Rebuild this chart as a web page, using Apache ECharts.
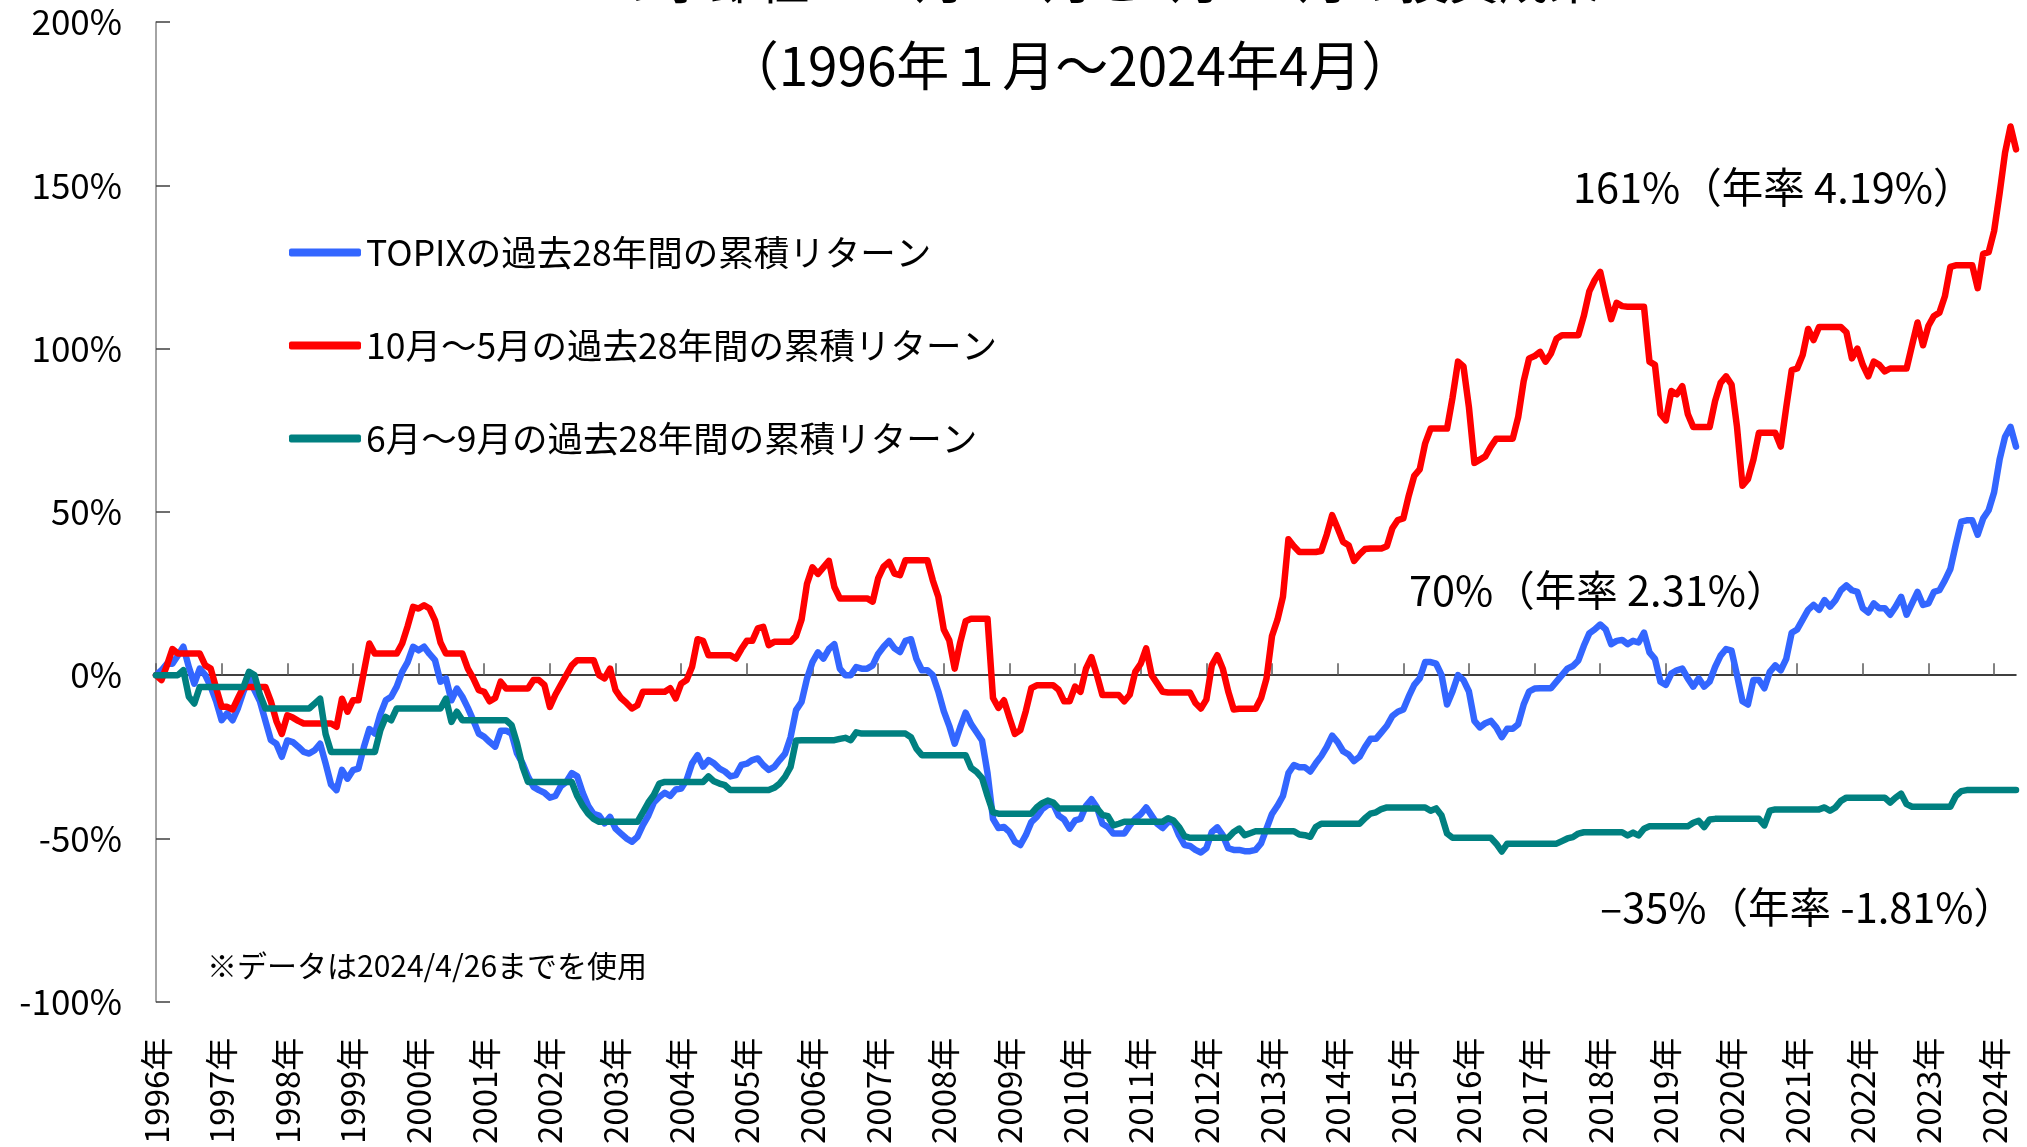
<!DOCTYPE html>
<html>
<head>
<meta charset="utf-8">
<script src="https://cdn.jsdelivr.net/npm/echarts@6/dist/echarts.min.js"></script>
<style>
html,body{margin:0;padding:0;background:#ffffff;}
#chart{width:2027px;height:1147px;}
</style>
</head>
<body>
<div id="chart"></div>
<script>
// ---- categories (month points, Jan 1996 ... Apr 2024 end) ----
const years = [1996,1997,1998,1999,2000,2001,2002,2003,2004,2005,2006,2007,2008,2009,2010,2011,2012,2013,2014,2015,2016,2017,2018,2019,2020,2021,2022,2023,2024];
const monthNames = ['01','02','03','04','05','06','07','08','09','10','11','12'];
const pointCount = 341;
const categories = [];
years.forEach(function (y) {
  monthNames.forEach(function (m) {
    if (categories.length < pointCount) categories.push(y + '/' + m);
  });
});

// ---- y axis ticks ----
const yTicks = [-100, -50, 0, 50, 100, 150, 200];

// ---- series names ----
const seriesNames = ['TOPIXの過去28年間の累積リターン', '10月～5月の過去28年間の累積リターン', '6月～9月の過去28年間の累積リターン'];

// ---- TOPIX cumulative return (%) ----
const topixValues = [
 0, 1.5, 3.5, 3.5, 6, 8.7, 2.5, -2.6, 2, 0, -3.5, -8,
 -13.8, -11.7, -13.8, -10, -5, -1, -4.6, -8, -14, -19.9, -21, -25,
 -20, -20.5, -21.9, -23.5, -24, -23, -21, -27, -33.5, -35.2, -29, -31.7,
 -29.1, -28.6, -22, -16.5, -17.9, -12, -7.7, -6.6, -3.5, 1, 4, 8.7,
 7.6, 8.7, 6.5, 4.6, -2, -1, -7.7, -4.1, -6.6, -10, -13.8, -17.9,
 -18.9, -20.5, -21.9, -17, -17, -17.9, -24, -27, -31, -34.2, -35.2, -36,
 -37.5, -37, -34, -32.7, -30, -31, -36, -40, -42.5, -43, -45.4, -43.4,
 -47, -48.5, -50, -51, -49.5, -45.9, -43, -39, -37.3, -36, -37, -35,
 -34.7, -32, -27, -24.5, -28, -26, -27, -28.6, -29.5, -31, -30.6, -27.5,
 -27.1, -26, -25.5, -27.5, -29, -28.1, -26, -24, -19, -10.7, -8.2, -1,
 4, 7, 5.1, 8, 9.5, 2, 0, 0, 2.5, 2, 2, 3,
 6.5, 8.7, 10.5, 8.2, 7.1, 10.5, 11, 5, 1.5, 1.5, 0, -5,
 -11, -15.5, -21, -16, -11.5, -15, -17.5, -20, -30, -44, -46.8, -46.5,
 -48, -51, -52, -49, -45, -43.4, -41, -39.8, -39.5, -43, -44.2, -47,
 -44.5, -44, -40, -38, -40.5, -45.5, -46.5, -48.5, -48.5, -48.5, -46, -44,
 -42.6, -40.5, -43, -45.5, -46.8, -45, -45, -49, -52, -52.3, -53.5, -54.3,
 -53, -48, -46.6, -49, -53, -53.5, -53.5, -53.9, -53.9, -53.5, -51.5, -47,
 -42.5, -40, -37, -30, -27.5, -28.2, -28.2, -29.5, -27, -24.8, -22, -18.5,
 -20.5, -23.3, -24.3, -26.3, -25, -22, -19.5, -19.5, -17.5, -15.5, -12.5, -11.2,
 -10.5, -6.5, -3, -1, 4, 4, 3.5, 0, -9, -5, 0, -1.5,
 -5, -14, -16, -14.7, -14, -16, -19, -16.4, -16.4, -15, -9, -5,
 -4.1, -4, -4, -4, -2, 0, 2, 2.8, 4.5, 9, 12.8, 14,
 15.5, 14, 9.5, 10.5, 10.8, 9.5, 10.5, 10, 13, 7, 5, -2,
 -3, 0.5, 1.5, 2, -1, -3.5, -1, -3.5, -2, 2.5, 6, 8,
 7.5, 0, -8, -9, -1.5, -1.5, -4, 1, 3, 1.5, 5, 13,
 14, 17, 20, 21.5, 20, 23, 21, 23, 26, 27.5, 26, 25.5,
 20.5, 19.2, 22, 20.5, 20.5, 18.5, 21, 24, 18.5, 22, 25.5, 21.5,
 22, 25.5, 26, 29, 32.5, 40, 47, 47.4, 47.4, 43, 48, 50.5,
 56, 66, 73, 76, 70
];

// ---- October-May cumulative return (%) ----
const octMayValues = [
 0, -1.5, 3, 8, 6.6, 6.6, 6.6, 6.6, 6.6, 3, 2, -4,
 -9.7, -9.7, -10.5, -7, -3.6, -3.6, -3.6, -3.6, -3.6, -8, -14, -18,
 -12.3, -13, -14, -14.8, -14.8, -14.8, -14.8, -14.8, -14.8, -15.8, -7.2, -11.2,
 -7.7, -7.7, 1, 9.7, 6.6, 6.6, 6.6, 6.6, 6.6, 9.7, 15, 20.9,
 20.4, 21.4, 20.4, 16.8, 10, 6.6, 6.6, 6.6, 6.6, 2, -1, -4.6,
 -5.1, -8, -7, -2, -4.1, -4.1, -4.1, -4.1, -4.1, -1.5, -1.5, -3,
 -9.7, -6, -3, 0, 3, 4.6, 4.6, 4.6, 4.6, 0, -1, 2,
 -4.6, -7, -8.5, -10.2, -9.2, -5.1, -5.1, -5.1, -5.1, -5.1, -4, -7.1,
 -2.6, -1.5, 2.6, 11, 10.5, 6.1, 6.1, 6.1, 6.1, 6.1, 5.1, 8,
 10.5, 10.5, 14.3, 14.8, 9.2, 10.2, 10.2, 10.2, 10.2, 12, 17, 28,
 33, 31, 33, 35, 27, 23.5, 23.5, 23.5, 23.5, 23.5, 23.5, 22.5,
 29.6, 33.2, 34.7, 31.1, 30.6, 35.2, 35.2, 35.2, 35.2, 35.2, 29, 24,
 14, 10.7, 2, 10, 16.5, 17.3, 17.3, 17.3, 17.3, -7, -10, -7.7,
 -13, -18, -16.8, -11, -4, -3.1, -3.1, -3.1, -3.1, -4.5, -8, -8,
 -3.5, -5.1, 2, 5.5, 0, -6.1, -6.1, -6.1, -6.1, -8, -6, 1,
 3.5, 8.2, 0, -2.5, -5.1, -5.3, -5.3, -5.3, -5.3, -5.3, -8.5, -10.2,
 -7.5, 3, 6.1, 2, -5, -10.5, -10.3, -10.3, -10.3, -10.3, -7, -1,
 12, 17, 24, 41.6, 39.5, 37.7, 37.7, 37.7, 37.7, 38, 43, 49,
 45, 40.8, 39.8, 35, 37, 38.6, 38.8, 38.8, 38.8, 39.5, 45, 47.5,
 48, 55, 61, 63, 71, 75.5, 75.5, 75.5, 75.5, 85, 96, 94.5,
 82, 65, 66, 67, 70, 72.4, 72.4, 72.4, 72.4, 79, 90, 97,
 97.7, 99, 96, 98.5, 103, 104.1, 104.1, 104.1, 104.1, 110, 117.5, 121,
 123.5, 116, 109, 114, 113, 112.8, 112.8, 112.8, 112.8, 96, 95, 80,
 78, 87, 86, 88.5, 80, 76, 76, 76, 76, 84, 89.5, 91.5,
 89, 76, 58, 60, 66, 74.2, 74.2, 74.2, 74.2, 70, 82, 93.4,
 93.9, 98, 106, 102.6, 106.6, 106.6, 106.6, 106.6, 106.6, 105, 97, 100,
 95, 91.5, 96, 95, 93, 93.9, 93.9, 93.9, 93.9, 101, 108, 101,
 107, 110, 111, 116, 125, 125.5, 125.5, 125.5, 125.5, 118.5, 129, 129.5,
 136, 147.5, 160, 168, 161
];

// ---- June-September cumulative return (%) ----
const junSepValues = [
 0, 0, 0, 0, 0, 1.5, -6.6, -8.7, -3.6, -3.6, -3.6, -3.6,
 -3.6, -3.6, -3.6, -3.6, -3.6, 1, 0, -6, -10.2, -10.2, -10.2, -10.2,
 -10.2, -10.2, -10.2, -10.2, -10.2, -8.7, -7.2, -18, -23.5, -23.5, -23.5, -23.5,
 -23.5, -23.5, -23.5, -23.5, -23.5, -16.9, -12.8, -13.8, -10.2, -10.2, -10.2, -10.2,
 -10.2, -10.2, -10.2, -10.2, -10.2, -7.2, -14.3, -11.2, -13.8, -13.8, -13.8, -13.8,
 -13.8, -13.8, -13.8, -13.8, -13.8, -15.3, -20.9, -28, -32.7, -32.7, -32.7, -32.7,
 -32.7, -32.7, -32.7, -32.7, -32.7, -37, -40, -42.4, -44, -44.9, -44.9, -44.9,
 -44.9, -44.9, -44.9, -44.9, -44.9, -42, -39, -36.7, -33.2, -32.7, -32.7, -32.7,
 -32.7, -32.7, -32.7, -32.7, -32.7, -31, -32.5, -33.2, -33.7, -35.2, -35.2, -35.2,
 -35.2, -35.2, -35.2, -35.2, -35.2, -34.5, -33.2, -31.1, -28.1, -20, -19.9, -19.9,
 -19.9, -19.9, -19.9, -19.9, -19.9, -19.5, -19.2, -19.9, -17.5, -17.9, -17.9, -17.9,
 -17.9, -17.9, -17.9, -17.9, -17.9, -17.9, -19, -22.5, -24.5, -24.5, -24.5, -24.5,
 -24.5, -24.5, -24.5, -24.5, -24.5, -28.4, -29.6, -31.5, -37, -42, -42.4, -42.4,
 -42.4, -42.4, -42.4, -42.4, -42.4, -40.5, -39.2, -38.4, -39, -40.8, -40.8, -40.8,
 -40.8, -40.8, -40.8, -40.8, -40.8, -42.8, -43.2, -46, -45.5, -44.9, -44.9, -44.9,
 -44.9, -44.9, -44.9, -44.9, -44.9, -43.8, -44.5, -46.5, -49.3, -49.8, -49.8, -49.8,
 -49.8, -49.8, -49.8, -49.8, -49.8, -48, -47, -49, -48.4, -47.8, -47.8, -47.8,
 -47.8, -47.8, -47.8, -47.8, -47.8, -48.8, -49, -49.5, -46.5, -45.5, -45.5, -45.5,
 -45.5, -45.5, -45.5, -45.5, -45.5, -43.8, -42.4, -42, -41, -40.5, -40.5, -40.5,
 -40.5, -40.5, -40.5, -40.5, -40.5, -41.5, -40.8, -43, -48.5, -49.8, -49.8, -49.8,
 -49.8, -49.8, -49.8, -49.8, -49.8, -51.6, -54, -51.6, -51.6, -51.6, -51.6, -51.6,
 -51.6, -51.6, -51.6, -51.6, -51.6, -50.8, -50, -49.6, -48.5, -48.1, -48.1, -48.1,
 -48.1, -48.1, -48.1, -48.1, -48.1, -49.1, -48.2, -49.1, -47, -46.3, -46.3, -46.3,
 -46.3, -46.3, -46.3, -46.3, -46.3, -45.2, -44.6, -46.5, -44.2, -44, -44, -44,
 -44, -44, -44, -44, -44, -44, -46, -41.5, -41.1, -41.1, -41.1, -41.1,
 -41.1, -41.1, -41.1, -41.1, -41.1, -40.5, -41.5, -40.5, -38.5, -37.5, -37.5, -37.5,
 -37.5, -37.5, -37.5, -37.5, -37.5, -39, -37.5, -36.3, -39.5, -40.3, -40.3, -40.3,
 -40.3, -40.3, -40.3, -40.3, -40.3, -37, -35.5, -35.2, -35.2, -35.2, -35.2, -35.2,
 -35.2, -35.2, -35.2, -35.2, -35.2
];

// ---- annotation texts ----
const titleLines = ['TOPIXの季節性：10月～5月と6月～9月の投資成果', '（1996年１月～2024年4月）'];
const endLabels = ['70%（年率 2.31%）', '161%（年率 4.19%）', '–35%（年率 -1.81%）'];
const noteText = '※データは2024/4/26までを使用';

const FONT = "'Noto Sans CJK JP', 'Noto Sans', sans-serif";
const colors = ['#3366FF', '#FF0000', '#008080'];

const chart = echarts.init(document.getElementById('chart'), null, {renderer: 'canvas'});

function yearTick(idx) { return idx % 12 === 0; }

const option = {
  backgroundColor: '#ffffff',
  animation: false,
  color: colors,
  grid: {left: 156, right: 11, top: 22, bottom: 145, containLabel: false},
  legend: {
    orient: 'vertical',
    left: 284,
    top: 226,
    itemGap: 50,
    itemWidth: 72,
    itemHeight: 8,
    icon: 'roundRect',
    textStyle: {fontFamily: FONT, fontSize: 35.5, color: '#000000', lineHeight: 43},
    data: seriesNames
  },
  xAxis: [
    {
      type: 'category',
      data: categories,
      boundaryGap: false,
      position: 'bottom',
      axisLine: {show: false, onZero: false},
      axisTick: {show: false},
      splitLine: {show: false},
      axisLabel: {
        interval: yearTick,
        rotate: 90,
        margin: 36,
        padding: [10, 0, 0, 0],
        fontFamily: FONT,
        fontSize: 33,
        color: '#000000',
        formatter: function (v) { return v.slice(0, 4) + '年'; }
      }
    },
    {
      type: 'category',
      data: categories,
      boundaryGap: false,
      position: 'top',
      axisLine: {show: true, onZero: true, lineStyle: {color: '#000000', width: 1.5}},
      axisTick: {show: true, inside: false, length: 12, interval: yearTick, lineStyle: {color: '#595959', width: 1.5}},
      axisLabel: {show: false},
      splitLine: {show: false}
    }
  ],
  yAxis: {
    type: 'value',
    min: yTicks[0],
    max: yTicks[yTicks.length - 1],
    interval: 50,
    axisLine: {show: true, onZero: false, lineStyle: {color: '#868686', width: 1.5}},
    axisTick: {show: true, inside: true, length: 14, lineStyle: {color: '#404040', width: 1.5}},
    splitLine: {show: false},
    axisLabel: {
      margin: 34,
      fontFamily: FONT,
      fontSize: 35,
      color: '#000000',
      formatter: '{value}%'
    }
  },
  series: [
    {name: seriesNames[0], type: 'line', data: topixValues, xAxisIndex: 0, symbol: 'none', smooth: false,
     lineStyle: {width: 6.5, color: colors[0], cap: 'round', join: 'round'}, z: 3},
    {name: seriesNames[1], type: 'line', data: octMayValues, xAxisIndex: 0, symbol: 'none', smooth: false,
     lineStyle: {width: 6.5, color: colors[1], cap: 'round', join: 'round'}, z: 4},
    {name: seriesNames[2], type: 'line', data: junSepValues, xAxisIndex: 0, symbol: 'none', smooth: false,
     lineStyle: {width: 6.5, color: colors[2], cap: 'round', join: 'round'}, z: 5}
  ],
  graphic: [
    {type: 'text', x: 1034, y: -20, z: 10,
     style: {text: titleLines[0], textAlign: 'center', textVerticalAlign: 'middle', fontFamily: FONT, fontSize: 50, fill: '#000000'}},
    {type: 'text', x: 1070, y: 66, z: 10,
     style: {text: titleLines[1], textAlign: 'center', textVerticalAlign: 'middle', fontFamily: FONT, fontSize: 53, fill: '#000000'}},
    {type: 'text', x: 1573, y: 187, z: 10,
     style: {text: endLabels[1], textAlign: 'left', textVerticalAlign: 'middle', fontFamily: FONT, fontSize: 41.5, fill: '#000000'}},
    {type: 'text', x: 1409, y: 590, z: 10,
     style: {text: endLabels[0], textAlign: 'left', textVerticalAlign: 'middle', fontFamily: FONT, fontSize: 41.5, fill: '#000000'}},
    {type: 'text', x: 1600, y: 907, z: 10,
     style: {text: endLabels[2], textAlign: 'left', textVerticalAlign: 'middle', fontFamily: FONT, fontSize: 41.5, fill: '#000000'}},
    {type: 'text', x: 207, y: 966, z: 10,
     style: {text: noteText, textAlign: 'left', textVerticalAlign: 'middle', fontFamily: FONT, fontSize: 30, fill: '#000000'}}
  ]
};

chart.setOption(option);
</script>
</body>
</html>
